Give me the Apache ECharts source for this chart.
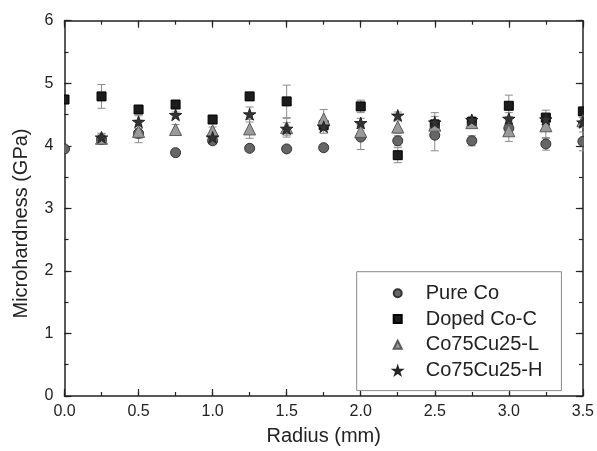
<!DOCTYPE html>
<html>
<head>
<meta charset="utf-8">
<script src="https://cdn.jsdelivr.net/npm/echarts@6/dist/echarts.min.js"></script>
<style>
html,body{margin:0;padding:0;background:#fff;}
#chart{width:597px;height:451px;}
</style>
</head>
<body>
<div id="chart"></div>
<script>
const radius = [0, 0.25, 0.5, 0.75, 1.0, 1.25, 1.5, 1.75, 2.0, 2.25, 2.5, 2.75, 3.0, 3.25, 3.5];

const pureCo      = [3.95, 4.10, 4.20, 3.89, 4.08, 3.96, 3.95, 3.97, 4.14, 4.08, 4.17, 4.08, 4.28, 4.03, 4.07];
const pureCoErr   = [0.05, 0.07, 0.08, 0.05, 0.05, 0.05, 0.05, 0.05, 0.20, 0.08, 0.25, 0.08, 0.07, 0.10, 0.15];

const dopedCoC    = [4.74, 4.79, 4.58, 4.66, 4.42, 4.79, 4.71, 4.33, 4.63, 3.85, 4.34, 4.38, 4.64, 4.45, 4.55];
const dopedCoCErr = [0.05, 0.19, 0.06, 0.05, 0.05, 0.06, 0.26, 0.05, 0.10, 0.12, 0.06, 0.05, 0.17, 0.12, 0.06];

const coCuL       = [null, 4.12, 4.23, 4.26, 4.24, 4.27, 4.29, 4.43, 4.23, 4.30, 4.33, 4.37, 4.24, 4.32, 4.40];
const coCuLErr    = [null, 0.07, 0.18, 0.08, 0.06, 0.15, 0.15, 0.15, 0.10, 0.10, 0.20, 0.07, 0.17, 0.20, 0.10];

const coCuH       = [null, 4.13, 4.38, 4.49, 4.13, 4.50, 4.27, 4.30, 4.36, 4.48, 4.37, 4.41, 4.43, 4.42, 4.37];
const coCuHErr    = [null, 0.07, 0.10, 0.05, 0.05, 0.12, 0.10, 0.10, 0.08, 0.06, 0.10, 0.06, 0.10, 0.08, 0.08];

const seriesNames = ['Pure Co', 'Doped Co-C', 'Co75Cu25-L', 'Co75Cu25-H'];
const xTicks = ['0.0', '0.5', '1.0', '1.5', '2.0', '2.5', '3.0', '3.5'];
const yTicks = ['0', '1', '2', '3', '4', '5', '6'];
const xTitle = 'Radius (mm)';
const yTitle = 'Microhardness (GPa)';

const FONT = '"Liberation Sans", Arial, sans-serif';
const TXT = '#222';

function pts(vals) {
  return radius.map((r, i) => vals[i] == null ? null : [r, vals[i]]).filter(d => d);
}
function errs(vals, e) {
  return radius.map((r, i) => vals[i] == null ? null : [r, vals[i] - e[i], vals[i] + e[i]]).filter(d => d);
}

function errRender(params, api) {
  const x = api.value(0);
  const lo = api.coord([x, api.value(1)]);
  const hi = api.coord([x, api.value(2)]);
  const hw = 4;
  const style = { stroke: '#8c8c8c', lineWidth: 1, fill: null };
  return {
    type: 'group',
    children: [
      { type: 'line', shape: { x1: lo[0], y1: lo[1], x2: hi[0], y2: hi[1] }, style },
      { type: 'line', shape: { x1: lo[0] - hw, y1: lo[1], x2: lo[0] + hw, y2: lo[1] }, style },
      { type: 'line', shape: { x1: hi[0] - hw, y1: hi[1], x2: hi[0] + hw, y2: hi[1] }, style }
    ]
  };
}

const STAR = 'path://M50,0 L61.8,36.2 L100,36.2 L69.1,58.6 L80.9,95.1 L50,72.7 L19.1,95.1 L30.9,58.6 L0,36.2 L38.2,36.2 Z';
const styles = [
  { kind: 'circle', icon: 'circle', size: 10, color: '#666666', border: '#333333' },
  { kind: 'rect', icon: 'rect', size: 9, color: '#1c1c1c', border: '#000000' },
  { kind: 'triangle', icon: 'triangle', size: 12, color: '#9a9a9a', border: '#5a5a5a' },
  { kind: 'star', icon: STAR, size: 13, color: '#333333', border: '#222222' }
];
const valuesList = [pureCo, dopedCoC, coCuL, coCuH];
const errList = [pureCoErr, dopedCoCErr, coCuLErr, coCuHErr];

function markerRender(s) {
  return function (params, api) {
    const p = api.coord([api.value(0), api.value(1)]);
    const r = s.size / 2;
    const style = { fill: s.color, stroke: s.border, lineWidth: 1 };
    if (s.kind === 'circle') {
      return { type: 'circle', shape: { cx: p[0], cy: p[1], r }, style };
    }
    if (s.kind === 'rect') {
      return { type: 'rect', shape: { x: p[0] - r, y: p[1] - r, width: s.size, height: s.size }, style };
    }
    if (s.kind === 'triangle') {
      return { type: 'polygon', shape: { points: [[p[0], p[1] - r], [p[0] + r, p[1] + r], [p[0] - r, p[1] + r]] }, style };
    }
    const points = [];
    for (let i = 0; i < 10; i++) {
      const rr = i % 2 === 0 ? r : r * 0.382;
      const a = -Math.PI / 2 + i * Math.PI / 5;
      points.push([p[0] + rr * Math.cos(a), p[1] + rr * Math.sin(a) + r * 0.05]);
    }
    return { type: 'polygon', shape: { points }, style };
  };
}

const series = [];
valuesList.forEach((v, k) => {
  series.push({
    type: 'custom',
    name: seriesNames[k] + ' err',
    renderItem: errRender,
    data: errs(v, errList[k]),
    encode: { x: 0, y: [1, 2] },
    clip: true,
    z: 1,
    silent: true
  });
});
valuesList.forEach((v, k) => {
  const s = styles[k];
  series.push({
    type: 'custom',
    name: seriesNames[k],
    renderItem: markerRender(s),
    data: pts(v),
    encode: { x: 0, y: 1 },
    clip: true,
    itemStyle: { color: s.color, borderColor: s.border, borderWidth: 1 },
    z: 3 + k
  });
});

function axis(position, max, interval, tickLen, showLine, labels) {
  return {
    type: 'value', min: 0, max, interval, position,
    axisLine: { show: showLine, onZero: false, lineStyle: { color: '#222', width: 1.5 } },
    axisTick: { show: true, inside: true, length: tickLen, lineStyle: { color: '#222', width: 1.2 } },
    minorTick: { show: false },
    splitLine: { show: false },
    axisLabel: labels ? Object.assign({ show: true, fontFamily: FONT, fontSize: 16, color: TXT }, labels) : { show: false }
  };
}

const chart = echarts.init(document.getElementById('chart'), null, { renderer: 'canvas' });
chart.setOption({
  backgroundColor: '#ffffff',
  animation: false,
  grid: { left: 64.5, right: 13.5, top: 20.7, bottom: 49.5, containLabel: false },
  xAxis: [
    Object.assign(axis('bottom', 3.5, 0.5, 7, true,
      { margin: 8, formatter: v => xTicks[Math.round(v / 0.5)] }), {
      name: xTitle, nameLocation: 'middle', nameGap: 30,
      nameTextStyle: { fontFamily: FONT, fontSize: 20, color: TXT }
    }),
    axis('top', 3.5, 0.5, 7, true, null),
    axis('bottom', 3.5, 0.25, 4, false, null),
    axis('top', 3.5, 0.25, 4, false, null)
  ],
  yAxis: [
    axis('left', 6, 1, 7, true, { margin: 11, formatter: v => yTicks[Math.round(v)] }),
    axis('right', 6, 1, 7, true, null),
    axis('left', 6, 0.5, 4, false, null),
    axis('right', 6, 0.5, 4, false, null)
  ],
  graphic: [{
    type: 'text',
    x: 21.7,
    y: 223.5,
    rotation: Math.PI / 2,
    style: {
      text: yTitle, fontFamily: FONT, fontSize: 20, fill: TXT,
      align: 'center', verticalAlign: 'middle'
    }
  }],
  legend: {
    data: seriesNames.map((n, i) => ({ name: n, icon: styles[i].icon })),
    orient: 'vertical',
    left: 356.7,
    top: 271.7,
    padding: [11.5, 19, 10, 36],
    itemGap: 5.8,
    itemWidth: 8,
    itemHeight: 8,
    backgroundColor: '#ffffff',
    borderColor: '#8a8a8a',
    borderWidth: 1,
    borderRadius: 0,
    textStyle: { fontFamily: FONT, fontSize: 20, color: TXT, padding: [0, 0, 0, 19] }
  },
  series
});
</script>
</body>
</html>
